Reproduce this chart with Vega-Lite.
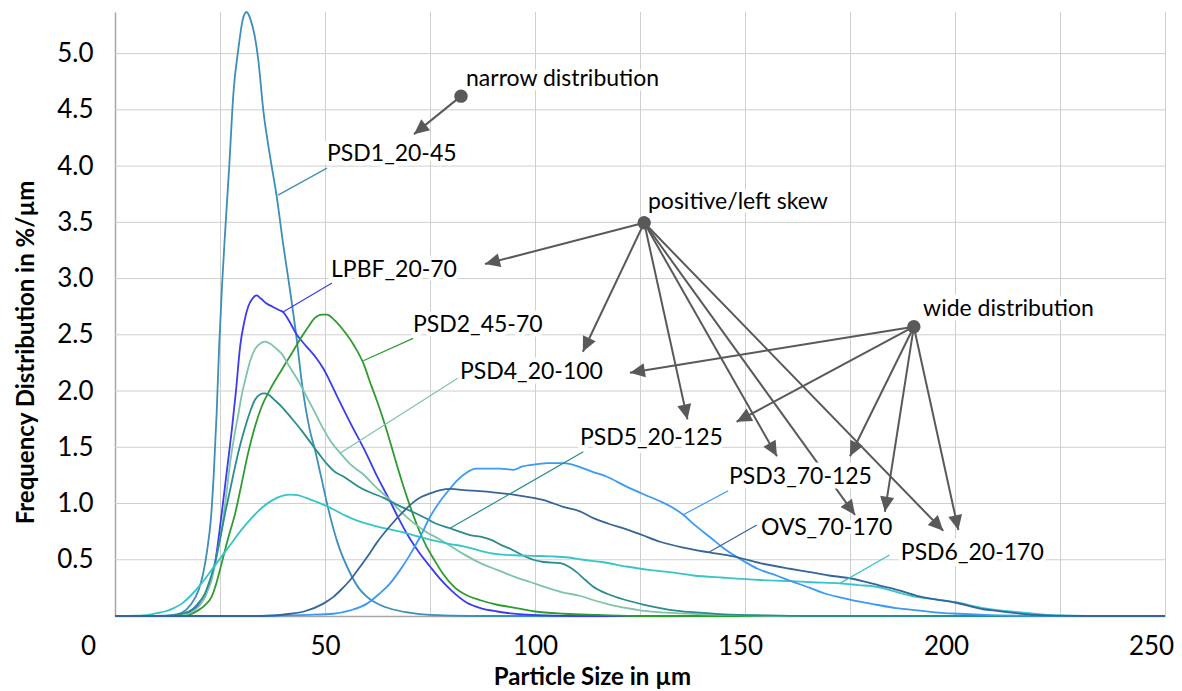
{
  "$schema": "https://vega.github.io/schema/vega-lite/v6.json",
  "width": 1050,
  "height": 604,
  "autosize": {"type": "none"},
  "padding": {"left": 115, "top": 12, "right": 17, "bottom": 75},
  "background": "white",
  "config": {
    "view": {"stroke": null},
    "font": "Lato",
    "axis": {
      "labelFont": "Lato", "labelFontSize": 26, "labelColor": "#000000",
      "titleFont": "Lato", "titleFontSize": 24, "titleFontWeight": "bold", "titleColor": "#000000",
      "tickSize": 0, "grid": false,
      "domainColor": "#A6A6A6", "domainWidth": 1.5, "labelOverlap": false, "labelFlush": false, "labelBound": false
    }
  },
  "resolve": {"axis": {"x": "independent", "y": "independent"}},
  "datasets": {
    "gridx": [{"x":25},{"x":50},{"x":75},{"x":100},{"x":125},{"x":150},{"x":175},{"x":200},{"x":225},{"x":250}],
    "gridy": [{"y":0.5},{"y":1},{"y":1.5},{"y":2},{"y":2.5},{"y":3},{"y":3.5},{"y":4},{"y":4.5},{"y":5}],
    "curves": [
      {"s":"PSD1_20-45","x":0,"y":0},{"s":"PSD1_20-45","x":10,"y":0},{"s":"PSD1_20-45","x":14,"y":0.01},{"s":"PSD1_20-45","x":16,"y":0.03},{"s":"PSD1_20-45","x":18,"y":0.1},{"s":"PSD1_20-45","x":20,"y":0.24},{"s":"PSD1_20-45","x":21,"y":0.38},{"s":"PSD1_20-45","x":22,"y":0.6},{"s":"PSD1_20-45","x":22.8,"y":0.85},{"s":"PSD1_20-45","x":23.5,"y":1.25},{"s":"PSD1_20-45","x":24.2,"y":1.8},{"s":"PSD1_20-45","x":24.8,"y":2.4},{"s":"PSD1_20-45","x":25.5,"y":2.95},{"s":"PSD1_20-45","x":26.2,"y":3.4},{"s":"PSD1_20-45","x":27.2,"y":4.0},{"s":"PSD1_20-45","x":28.2,"y":4.65},{"s":"PSD1_20-45","x":29.4,"y":5.05},{"s":"PSD1_20-45","x":30.4,"y":5.3},{"s":"PSD1_20-45","x":31.3,"y":5.37},{"s":"PSD1_20-45","x":32.3,"y":5.3},{"s":"PSD1_20-45","x":33.3,"y":5.15},{"s":"PSD1_20-45","x":34.1,"y":4.95},{"s":"PSD1_20-45","x":35.3,"y":4.5},{"s":"PSD1_20-45","x":36.9,"y":4.09},{"s":"PSD1_20-45","x":38.5,"y":3.73},{"s":"PSD1_20-45","x":40.1,"y":3.29},{"s":"PSD1_20-45","x":41.3,"y":2.99},{"s":"PSD1_20-45","x":43.3,"y":2.45},{"s":"PSD1_20-45","x":44.4,"y":2.1},{"s":"PSD1_20-45","x":46.4,"y":1.65},{"s":"PSD1_20-45","x":47.6,"y":1.48},{"s":"PSD1_20-45","x":49,"y":1.25},{"s":"PSD1_20-45","x":50.8,"y":0.95},{"s":"PSD1_20-45","x":53,"y":0.65},{"s":"PSD1_20-45","x":56,"y":0.38},{"s":"PSD1_20-45","x":58,"y":0.25},{"s":"PSD1_20-45","x":60,"y":0.17},{"s":"PSD1_20-45","x":63,"y":0.1},{"s":"PSD1_20-45","x":66,"y":0.06},{"s":"PSD1_20-45","x":70,"y":0.03},{"s":"PSD1_20-45","x":75,"y":0.01},{"s":"PSD1_20-45","x":85,"y":0},{"s":"PSD1_20-45","x":250,"y":0},

      {"s":"LPBF_20-70","x":0,"y":0},{"s":"LPBF_20-70","x":12,"y":0},{"s":"LPBF_20-70","x":16.3,"y":0.01},{"s":"LPBF_20-70","x":18.3,"y":0.05},{"s":"LPBF_20-70","x":20,"y":0.1},{"s":"LPBF_20-70","x":21.4,"y":0.17},{"s":"LPBF_20-70","x":22.6,"y":0.3},{"s":"LPBF_20-70","x":23.8,"y":0.47},{"s":"LPBF_20-70","x":25.4,"y":0.91},{"s":"LPBF_20-70","x":26.5,"y":1.25},{"s":"LPBF_20-70","x":27.8,"y":1.65},{"s":"LPBF_20-70","x":28.8,"y":2.0},{"s":"LPBF_20-70","x":29.8,"y":2.4},{"s":"LPBF_20-70","x":30.8,"y":2.62},{"s":"LPBF_20-70","x":31.7,"y":2.75},{"s":"LPBF_20-70","x":32.7,"y":2.82},{"s":"LPBF_20-70","x":33.7,"y":2.85},{"s":"LPBF_20-70","x":34.8,"y":2.82},{"s":"LPBF_20-70","x":36,"y":2.78},{"s":"LPBF_20-70","x":37.5,"y":2.75},{"s":"LPBF_20-70","x":39,"y":2.72},{"s":"LPBF_20-70","x":40.1,"y":2.7},{"s":"LPBF_20-70","x":41.5,"y":2.62},{"s":"LPBF_20-70","x":43.3,"y":2.5},{"s":"LPBF_20-70","x":45.5,"y":2.4},{"s":"LPBF_20-70","x":48,"y":2.29},{"s":"LPBF_20-70","x":49.6,"y":2.2},{"s":"LPBF_20-70","x":51,"y":2.1},{"s":"LPBF_20-70","x":52.8,"y":1.96},{"s":"LPBF_20-70","x":56,"y":1.72},{"s":"LPBF_20-70","x":59.9,"y":1.44},{"s":"LPBF_20-70","x":62.3,"y":1.25},{"s":"LPBF_20-70","x":65.5,"y":1.02},{"s":"LPBF_20-70","x":67.5,"y":0.87},{"s":"LPBF_20-70","x":70,"y":0.7},{"s":"LPBF_20-70","x":72.5,"y":0.56},{"s":"LPBF_20-70","x":75,"y":0.44},{"s":"LPBF_20-70","x":77.4,"y":0.33},{"s":"LPBF_20-70","x":80,"y":0.23},{"s":"LPBF_20-70","x":83.7,"y":0.12},{"s":"LPBF_20-70","x":87,"y":0.07},{"s":"LPBF_20-70","x":91,"y":0.04},{"s":"LPBF_20-70","x":99,"y":0.01},{"s":"LPBF_20-70","x":110,"y":0},{"s":"LPBF_20-70","x":250,"y":0},

      {"s":"PSD2_45-70","x":0,"y":0},{"s":"PSD2_45-70","x":15,"y":0},{"s":"PSD2_45-70","x":17.5,"y":0.01},{"s":"PSD2_45-70","x":19.8,"y":0.05},{"s":"PSD2_45-70","x":21.5,"y":0.1},{"s":"PSD2_45-70","x":23,"y":0.17},{"s":"PSD2_45-70","x":24.2,"y":0.3},{"s":"PSD2_45-70","x":25.4,"y":0.47},{"s":"PSD2_45-70","x":27,"y":0.7},{"s":"PSD2_45-70","x":28.6,"y":0.91},{"s":"PSD2_45-70","x":30,"y":1.15},{"s":"PSD2_45-70","x":31.7,"y":1.45},{"s":"PSD2_45-70","x":33.3,"y":1.68},{"s":"PSD2_45-70","x":34.9,"y":1.86},{"s":"PSD2_45-70","x":37,"y":2.02},{"s":"PSD2_45-70","x":39.7,"y":2.19},{"s":"PSD2_45-70","x":42,"y":2.33},{"s":"PSD2_45-70","x":44.4,"y":2.48},{"s":"PSD2_45-70","x":46,"y":2.57},{"s":"PSD2_45-70","x":47.6,"y":2.65},{"s":"PSD2_45-70","x":49.2,"y":2.68},{"s":"PSD2_45-70","x":50.5,"y":2.68},{"s":"PSD2_45-70","x":52,"y":2.64},{"s":"PSD2_45-70","x":54.4,"y":2.54},{"s":"PSD2_45-70","x":57,"y":2.4},{"s":"PSD2_45-70","x":59.1,"y":2.25},{"s":"PSD2_45-70","x":61,"y":2.05},{"s":"PSD2_45-70","x":62.3,"y":1.92},{"s":"PSD2_45-70","x":64.7,"y":1.65},{"s":"PSD2_45-70","x":66.5,"y":1.42},{"s":"PSD2_45-70","x":68.7,"y":1.15},{"s":"PSD2_45-70","x":70.5,"y":0.95},{"s":"PSD2_45-70","x":72.2,"y":0.78},{"s":"PSD2_45-70","x":74,"y":0.63},{"s":"PSD2_45-70","x":76,"y":0.5},{"s":"PSD2_45-70","x":78,"y":0.38},{"s":"PSD2_45-70","x":81,"y":0.25},{"s":"PSD2_45-70","x":84,"y":0.18},{"s":"PSD2_45-70","x":87,"y":0.14},{"s":"PSD2_45-70","x":91,"y":0.1},{"s":"PSD2_45-70","x":95.6,"y":0.07},{"s":"PSD2_45-70","x":100,"y":0.04},{"s":"PSD2_45-70","x":107,"y":0.02},{"s":"PSD2_45-70","x":115,"y":0.01},{"s":"PSD2_45-70","x":125,"y":0},{"s":"PSD2_45-70","x":250,"y":0},

      {"s":"PSD4_20-100","x":0,"y":0},{"s":"PSD4_20-100","x":12,"y":0},{"s":"PSD4_20-100","x":16.3,"y":0.01},{"s":"PSD4_20-100","x":19.8,"y":0.08},{"s":"PSD4_20-100","x":21.5,"y":0.18},{"s":"PSD4_20-100","x":23,"y":0.32},{"s":"PSD4_20-100","x":24.3,"y":0.55},{"s":"PSD4_20-100","x":25.4,"y":0.77},{"s":"PSD4_20-100","x":26.4,"y":1.05},{"s":"PSD4_20-100","x":27.4,"y":1.36},{"s":"PSD4_20-100","x":28.4,"y":1.6},{"s":"PSD4_20-100","x":29.4,"y":1.8},{"s":"PSD4_20-100","x":30.2,"y":1.97},{"s":"PSD4_20-100","x":31,"y":2.1},{"s":"PSD4_20-100","x":32.2,"y":2.27},{"s":"PSD4_20-100","x":33.3,"y":2.37},{"s":"PSD4_20-100","x":34.5,"y":2.42},{"s":"PSD4_20-100","x":35.7,"y":2.44},{"s":"PSD4_20-100","x":37,"y":2.42},{"s":"PSD4_20-100","x":38.3,"y":2.38},{"s":"PSD4_20-100","x":39.7,"y":2.33},{"s":"PSD4_20-100","x":41.5,"y":2.22},{"s":"PSD4_20-100","x":43.5,"y":2.1},{"s":"PSD4_20-100","x":45.5,"y":1.96},{"s":"PSD4_20-100","x":47.6,"y":1.81},{"s":"PSD4_20-100","x":49.5,"y":1.67},{"s":"PSD4_20-100","x":51.6,"y":1.54},{"s":"PSD4_20-100","x":53.6,"y":1.45},{"s":"PSD4_20-100","x":56,"y":1.35},{"s":"PSD4_20-100","x":59.1,"y":1.26},{"s":"PSD4_20-100","x":62,"y":1.15},{"s":"PSD4_20-100","x":65.5,"y":1.03},{"s":"PSD4_20-100","x":68,"y":0.93},{"s":"PSD4_20-100","x":71,"y":0.83},{"s":"PSD4_20-100","x":74,"y":0.75},{"s":"PSD4_20-100","x":77.4,"y":0.68},{"s":"PSD4_20-100","x":80,"y":0.62},{"s":"PSD4_20-100","x":83,"y":0.55},{"s":"PSD4_20-100","x":87,"y":0.47},{"s":"PSD4_20-100","x":91,"y":0.41},{"s":"PSD4_20-100","x":95,"y":0.35},{"s":"PSD4_20-100","x":99,"y":0.3},{"s":"PSD4_20-100","x":103,"y":0.25},{"s":"PSD4_20-100","x":106.5,"y":0.21},{"s":"PSD4_20-100","x":110.7,"y":0.18},{"s":"PSD4_20-100","x":114,"y":0.14},{"s":"PSD4_20-100","x":118,"y":0.1},{"s":"PSD4_20-100","x":122,"y":0.07},{"s":"PSD4_20-100","x":126,"y":0.045},{"s":"PSD4_20-100","x":131,"y":0.03},{"s":"PSD4_20-100","x":140,"y":0.015},{"s":"PSD4_20-100","x":150,"y":0.005},{"s":"PSD4_20-100","x":160,"y":0},{"s":"PSD4_20-100","x":250,"y":0},

      {"s":"PSD5_20-125","x":0,"y":0},{"s":"PSD5_20-125","x":12,"y":0},{"s":"PSD5_20-125","x":17.5,"y":0.04},{"s":"PSD5_20-125","x":19.5,"y":0.1},{"s":"PSD5_20-125","x":21.4,"y":0.2},{"s":"PSD5_20-125","x":22.6,"y":0.32},{"s":"PSD5_20-125","x":23.8,"y":0.47},{"s":"PSD5_20-125","x":25,"y":0.68},{"s":"PSD5_20-125","x":26.2,"y":0.91},{"s":"PSD5_20-125","x":27.4,"y":1.12},{"s":"PSD5_20-125","x":28.6,"y":1.33},{"s":"PSD5_20-125","x":29.8,"y":1.52},{"s":"PSD5_20-125","x":31,"y":1.68},{"s":"PSD5_20-125","x":32.2,"y":1.82},{"s":"PSD5_20-125","x":33.3,"y":1.92},{"s":"PSD5_20-125","x":34.5,"y":1.97},{"s":"PSD5_20-125","x":35.5,"y":1.98},{"s":"PSD5_20-125","x":36.5,"y":1.97},{"s":"PSD5_20-125","x":38,"y":1.92},{"s":"PSD5_20-125","x":39.7,"y":1.86},{"s":"PSD5_20-125","x":42,"y":1.76},{"s":"PSD5_20-125","x":44.4,"y":1.65},{"s":"PSD5_20-125","x":46.4,"y":1.55},{"s":"PSD5_20-125","x":48.4,"y":1.45},{"s":"PSD5_20-125","x":50.5,"y":1.35},{"s":"PSD5_20-125","x":52.4,"y":1.28},{"s":"PSD5_20-125","x":54.4,"y":1.24},{"s":"PSD5_20-125","x":56,"y":1.2},{"s":"PSD5_20-125","x":58,"y":1.15},{"s":"PSD5_20-125","x":60.7,"y":1.1},{"s":"PSD5_20-125","x":64,"y":1.05},{"s":"PSD5_20-125","x":67.1,"y":0.99},{"s":"PSD5_20-125","x":70,"y":0.94},{"s":"PSD5_20-125","x":73.4,"y":0.88},{"s":"PSD5_20-125","x":76.5,"y":0.82},{"s":"PSD5_20-125","x":79.8,"y":0.78},{"s":"PSD5_20-125","x":82,"y":0.75},{"s":"PSD5_20-125","x":84.5,"y":0.72},{"s":"PSD5_20-125","x":87.7,"y":0.7},{"s":"PSD5_20-125","x":90,"y":0.67},{"s":"PSD5_20-125","x":92,"y":0.63},{"s":"PSD5_20-125","x":94,"y":0.6},{"s":"PSD5_20-125","x":96.5,"y":0.55},{"s":"PSD5_20-125","x":99.6,"y":0.5},{"s":"PSD5_20-125","x":102,"y":0.48},{"s":"PSD5_20-125","x":106,"y":0.47},{"s":"PSD5_20-125","x":108,"y":0.44},{"s":"PSD5_20-125","x":109.9,"y":0.39},{"s":"PSD5_20-125","x":112,"y":0.32},{"s":"PSD5_20-125","x":113.9,"y":0.26},{"s":"PSD5_20-125","x":117,"y":0.2},{"s":"PSD5_20-125","x":121.8,"y":0.14},{"s":"PSD5_20-125","x":126,"y":0.1},{"s":"PSD5_20-125","x":129.8,"y":0.07},{"s":"PSD5_20-125","x":134,"y":0.045},{"s":"PSD5_20-125","x":139,"y":0.03},{"s":"PSD5_20-125","x":145,"y":0.015},{"s":"PSD5_20-125","x":155,"y":0.005},{"s":"PSD5_20-125","x":165,"y":0},{"s":"PSD5_20-125","x":250,"y":0},

      {"s":"PSD6_20-170","x":0,"y":0},{"s":"PSD6_20-170","x":5,"y":0.003},{"s":"PSD6_20-170","x":7.9,"y":0.01},{"s":"PSD6_20-170","x":10,"y":0.025},{"s":"PSD6_20-170","x":11.9,"y":0.04},{"s":"PSD6_20-170","x":14,"y":0.07},{"s":"PSD6_20-170","x":15.9,"y":0.11},{"s":"PSD6_20-170","x":18,"y":0.18},{"s":"PSD6_20-170","x":20.6,"y":0.29},{"s":"PSD6_20-170","x":23,"y":0.41},{"s":"PSD6_20-170","x":25.4,"y":0.53},{"s":"PSD6_20-170","x":28,"y":0.66},{"s":"PSD6_20-170","x":30.2,"y":0.77},{"s":"PSD6_20-170","x":32.5,"y":0.87},{"s":"PSD6_20-170","x":34.9,"y":0.96},{"s":"PSD6_20-170","x":37.5,"y":1.03},{"s":"PSD6_20-170","x":40,"y":1.07},{"s":"PSD6_20-170","x":41.7,"y":1.08},{"s":"PSD6_20-170","x":43.5,"y":1.075},{"s":"PSD6_20-170","x":45.5,"y":1.05},{"s":"PSD6_20-170","x":47.6,"y":1.02},{"s":"PSD6_20-170","x":49.6,"y":0.99},{"s":"PSD6_20-170","x":52.4,"y":0.94},{"s":"PSD6_20-170","x":55,"y":0.89},{"s":"PSD6_20-170","x":57.5,"y":0.85},{"s":"PSD6_20-170","x":59.1,"y":0.83},{"s":"PSD6_20-170","x":62,"y":0.8},{"s":"PSD6_20-170","x":65.5,"y":0.77},{"s":"PSD6_20-170","x":68,"y":0.75},{"s":"PSD6_20-170","x":71,"y":0.72},{"s":"PSD6_20-170","x":75,"y":0.68},{"s":"PSD6_20-170","x":79.8,"y":0.64},{"s":"PSD6_20-170","x":83,"y":0.62},{"s":"PSD6_20-170","x":87,"y":0.58},{"s":"PSD6_20-170","x":91,"y":0.55},{"s":"PSD6_20-170","x":95,"y":0.54},{"s":"PSD6_20-170","x":99,"y":0.535},{"s":"PSD6_20-170","x":104,"y":0.53},{"s":"PSD6_20-170","x":108,"y":0.52},{"s":"PSD6_20-170","x":111.5,"y":0.5},{"s":"PSD6_20-170","x":116,"y":0.48},{"s":"PSD6_20-170","x":121.8,"y":0.44},{"s":"PSD6_20-170","x":127,"y":0.41},{"s":"PSD6_20-170","x":132,"y":0.39},{"s":"PSD6_20-170","x":137.7,"y":0.36},{"s":"PSD6_20-170","x":145,"y":0.34},{"s":"PSD6_20-170","x":153.6,"y":0.32},{"s":"PSD6_20-170","x":160.7,"y":0.31},{"s":"PSD6_20-170","x":166,"y":0.3},{"s":"PSD6_20-170","x":172.6,"y":0.29},{"s":"PSD6_20-170","x":177,"y":0.275},{"s":"PSD6_20-170","x":181.3,"y":0.26},{"s":"PSD6_20-170","x":184.5,"y":0.23},{"s":"PSD6_20-170","x":190.9,"y":0.17},{"s":"PSD6_20-170","x":195,"y":0.15},{"s":"PSD6_20-170","x":200.4,"y":0.12},{"s":"PSD6_20-170","x":206.7,"y":0.07},{"s":"PSD6_20-170","x":212,"y":0.045},{"s":"PSD6_20-170","x":216.3,"y":0.03},{"s":"PSD6_20-170","x":222,"y":0.01},{"s":"PSD6_20-170","x":228,"y":0.003},{"s":"PSD6_20-170","x":235,"y":0},{"s":"PSD6_20-170","x":250,"y":0},

      {"s":"PSD3_70-125","x":0,"y":0},{"s":"PSD3_70-125","x":30,"y":0},{"s":"PSD3_70-125","x":40,"y":0.005},{"s":"PSD3_70-125","x":46,"y":0.01},{"s":"PSD3_70-125","x":52,"y":0.02},{"s":"PSD3_70-125","x":56,"y":0.05},{"s":"PSD3_70-125","x":60,"y":0.11},{"s":"PSD3_70-125","x":63,"y":0.2},{"s":"PSD3_70-125","x":65.5,"y":0.29},{"s":"PSD3_70-125","x":67.9,"y":0.41},{"s":"PSD3_70-125","x":70,"y":0.53},{"s":"PSD3_70-125","x":72.6,"y":0.7},{"s":"PSD3_70-125","x":75,"y":0.88},{"s":"PSD3_70-125","x":77.4,"y":1.02},{"s":"PSD3_70-125","x":79.5,"y":1.12},{"s":"PSD3_70-125","x":81.3,"y":1.2},{"s":"PSD3_70-125","x":83.5,"y":1.27},{"s":"PSD3_70-125","x":86,"y":1.31},{"s":"PSD3_70-125","x":89.3,"y":1.31},{"s":"PSD3_70-125","x":91.7,"y":1.31},{"s":"PSD3_70-125","x":94.8,"y":1.3},{"s":"PSD3_70-125","x":97,"y":1.33},{"s":"PSD3_70-125","x":100.4,"y":1.35},{"s":"PSD3_70-125","x":103,"y":1.36},{"s":"PSD3_70-125","x":106.7,"y":1.36},{"s":"PSD3_70-125","x":108.5,"y":1.35},{"s":"PSD3_70-125","x":111,"y":1.32},{"s":"PSD3_70-125","x":113.9,"y":1.28},{"s":"PSD3_70-125","x":117,"y":1.24},{"s":"PSD3_70-125","x":121.8,"y":1.15},{"s":"PSD3_70-125","x":126,"y":1.08},{"s":"PSD3_70-125","x":129.8,"y":1.02},{"s":"PSD3_70-125","x":132,"y":0.98},{"s":"PSD3_70-125","x":135.3,"y":0.9},{"s":"PSD3_70-125","x":138,"y":0.81},{"s":"PSD3_70-125","x":141.7,"y":0.7},{"s":"PSD3_70-125","x":145,"y":0.6},{"s":"PSD3_70-125","x":149.6,"y":0.49},{"s":"PSD3_70-125","x":153,"y":0.42},{"s":"PSD3_70-125","x":157.5,"y":0.36},{"s":"PSD3_70-125","x":161,"y":0.31},{"s":"PSD3_70-125","x":165.5,"y":0.25},{"s":"PSD3_70-125","x":169,"y":0.2},{"s":"PSD3_70-125","x":173.4,"y":0.16},{"s":"PSD3_70-125","x":177,"y":0.13},{"s":"PSD3_70-125","x":181.3,"y":0.1},{"s":"PSD3_70-125","x":186,"y":0.07},{"s":"PSD3_70-125","x":191,"y":0.05},{"s":"PSD3_70-125","x":196,"y":0.03},{"s":"PSD3_70-125","x":201,"y":0.02},{"s":"PSD3_70-125","x":207,"y":0.01},{"s":"PSD3_70-125","x":215,"y":0.003},{"s":"PSD3_70-125","x":225,"y":0},{"s":"PSD3_70-125","x":250,"y":0},

      {"s":"OVS_70-170","x":0,"y":0},{"s":"OVS_70-170","x":35,"y":0},{"s":"OVS_70-170","x":41.7,"y":0.02},{"s":"OVS_70-170","x":45,"y":0.04},{"s":"OVS_70-170","x":49.6,"y":0.11},{"s":"OVS_70-170","x":52,"y":0.17},{"s":"OVS_70-170","x":54,"y":0.24},{"s":"OVS_70-170","x":56,"y":0.32},{"s":"OVS_70-170","x":58,"y":0.42},{"s":"OVS_70-170","x":60.5,"y":0.55},{"s":"OVS_70-170","x":62.3,"y":0.65},{"s":"OVS_70-170","x":65.5,"y":0.8},{"s":"OVS_70-170","x":68.7,"y":0.93},{"s":"OVS_70-170","x":71,"y":1.01},{"s":"OVS_70-170","x":73,"y":1.06},{"s":"OVS_70-170","x":75,"y":1.09},{"s":"OVS_70-170","x":77.5,"y":1.12},{"s":"OVS_70-170","x":80,"y":1.13},{"s":"OVS_70-170","x":83,"y":1.12},{"s":"OVS_70-170","x":86.9,"y":1.11},{"s":"OVS_70-170","x":90,"y":1.1},{"s":"OVS_70-170","x":94.8,"y":1.08},{"s":"OVS_70-170","x":99.6,"y":1.05},{"s":"OVS_70-170","x":103,"y":1.02},{"s":"OVS_70-170","x":106.7,"y":0.97},{"s":"OVS_70-170","x":110.7,"y":0.93},{"s":"OVS_70-170","x":113.9,"y":0.87},{"s":"OVS_70-170","x":117.5,"y":0.82},{"s":"OVS_70-170","x":121.8,"y":0.77},{"s":"OVS_70-170","x":125.5,"y":0.72},{"s":"OVS_70-170","x":129.8,"y":0.66},{"s":"OVS_70-170","x":135,"y":0.61},{"s":"OVS_70-170","x":141.5,"y":0.565},{"s":"OVS_70-170","x":147.2,"y":0.53},{"s":"OVS_70-170","x":153.6,"y":0.47},{"s":"OVS_70-170","x":160.7,"y":0.42},{"s":"OVS_70-170","x":165.5,"y":0.39},{"s":"OVS_70-170","x":170,"y":0.36},{"s":"OVS_70-170","x":174.2,"y":0.34},{"s":"OVS_70-170","x":178,"y":0.31},{"s":"OVS_70-170","x":182.1,"y":0.27},{"s":"OVS_70-170","x":186.5,"y":0.23},{"s":"OVS_70-170","x":190.9,"y":0.18},{"s":"OVS_70-170","x":195,"y":0.15},{"s":"OVS_70-170","x":200,"y":0.12},{"s":"OVS_70-170","x":206.7,"y":0.06},{"s":"OVS_70-170","x":210,"y":0.045},{"s":"OVS_70-170","x":214.7,"y":0.025},{"s":"OVS_70-170","x":219,"y":0.01},{"s":"OVS_70-170","x":225,"y":0.003},{"s":"OVS_70-170","x":232,"y":0},{"s":"OVS_70-170","x":250,"y":0}
    ],
    "leaders": [
      {"s":"PSD1_20-45","x":50.48,"y":3.982,"x2":38.81,"y2":3.742},
      {"s":"LPBF_20-70","x":51.67,"y":2.96,"x2":40.0,"y2":2.702},
      {"s":"PSD2_45-70","x":70.98,"y":2.468,"x2":59.12,"y2":2.27},
      {"s":"PSD4_20-100","x":82.14,"y":2.127,"x2":53.57,"y2":1.446},
      {"s":"PSD5_20-125","x":111.5,"y":1.46,"x2":79.76,"y2":0.78},
      {"s":"PSD3_70-125","x":146.0,"y":1.114,"x2":135.3,"y2":0.9},
      {"s":"OVS_70-170","x":152.8,"y":0.809,"x2":141.3,"y2":0.565},
      {"s":"PSD6_20-170","x":184.4,"y":0.542,"x2":172.6,"y2":0.29}
    ],
    "arrows": [
      {"x":82.38,"y":4.622,"x2":71.19,"y2":4.284},
      {"x":126.0,"y":3.496,"x2":88.1,"y2":3.129},
      {"x":126.0,"y":3.496,"x2":111.4,"y2":2.349},
      {"x":126.0,"y":3.496,"x2":136.3,"y2":1.748},
      {"x":126.0,"y":3.496,"x2":157.6,"y2":1.42},
      {"x":126.0,"y":3.496,"x2":176.2,"y2":0.898},
      {"x":126.0,"y":3.496,"x2":197.2,"y2":0.758},
      {"x":190.2,"y":2.572,"x2":122.6,"y2":2.163},
      {"x":190.2,"y":2.572,"x2":148.0,"y2":1.727},
      {"x":190.2,"y":2.572,"x2":175.0,"y2":1.42},
      {"x":190.2,"y":2.572,"x2":183.3,"y2":0.927},
      {"x":190.2,"y":2.572,"x2":200.8,"y2":0.764}
    ],
    "dots": [
      {"x":82.38,"y":4.622},{"x":126.0,"y":3.496},{"x":190.2,"y":2.572}
    ],
    "labels": [
      {"t":"narrow distribution","x":83.57,"y":4.711},
      {"t":"PSD1_20-45","x":50.48,"y":4.044},
      {"t":"positive/left skew","x":126.9,"y":3.618},
      {"t":"LPBF_20-70","x":51.43,"y":3.013},
      {"t":"PSD2_45-70","x":70.95,"y":2.524},
      {"t":"wide distribution","x":192.4,"y":2.667},
      {"t":"PSD4_20-100","x":82.14,"y":2.107},
      {"t":"PSD5_20-125","x":110.7,"y":1.52},
      {"t":"PSD3_70-125","x":146.2,"y":1.173},
      {"t":"OVS_70-170","x":153.8,"y":0.72},
      {"t":"PSD6_20-170","x":187.1,"y":0.498}
    ]
  },
  "layer": [
    {
      "data": {"name": "gridx"},
      "mark": {"type": "rule", "color": "#CFCFCF", "strokeWidth": 1, "xOffset": 0.5},
      "encoding": {
        "x": {"field": "x", "type": "quantitative", "title": "Particle Size in µm", "scale": {"domain": [0, 250], "nice": false, "zero": false},
          "axis": {"values": [0,25,50,75,100,125,150,175,200,225,250],
            "labelExpr": "datum.value % 50 == 0 ? datum.label : ''", "labelPadding": 17,
            "labelOffset": {"condition": [{"test": "datum.value == 0", "value": -27}, {"test": "datum.value == 150", "value": -5}, {"test": "datum.value == 200", "value": -9}, {"test": "datum.value == 250", "value": -14}], "value": 0},
            "titleX": 477, "titleY": 68, "titleBaseline": "alphabetic", "titleAlign": "center"}}
      }
    },
    {
      "data": {"name": "gridy"},
      "mark": {"type": "rule", "color": "#CFCFCF", "strokeWidth": 1},
      "encoding": {
        "y": {"field": "y", "type": "quantitative", "title": "Frequency Distribution in %/µm", "scale": {"domain": [0, 5.37], "nice": false, "zero": false},
          "axis": {"values": [0,0.5,1,1.5,2,2.5,3,3.5,4,4.5,5],
            "labelExpr": "datum.value == 0 ? '' : format(datum.value, '.1f')", "labelPadding": 22,
            "titleX": -82, "titleY": 340, "titleBaseline": "alphabetic", "titleAlign": "center", "titleAngle": -90}}
      }
    },
    {
      "data": {"name": "curves"},
      "mark": {"type": "line", "interpolate": "monotone", "strokeWidth": 1.8},
      "encoding": {
        "x": {"field": "x", "type": "quantitative", "axis": null},
        "y": {"field": "y", "type": "quantitative", "axis": null},
        "color": {"field": "s", "type": "nominal", "legend": null,
          "scale": {"domain": ["PSD1_20-45","LPBF_20-70","PSD2_45-70","PSD4_20-100","PSD5_20-125","PSD6_20-170","PSD3_70-125","OVS_70-170"],
                    "range": ["#3D8EB9","#3B3BF2","#2E9B2E","#7EC4A6","#2A8C8C","#36C5C8","#3A9AF5","#36659A"]}},
        "detail": {"field": "s"}
      }
    },
    {
      "data": {"name": "leaders"},
      "mark": {"type": "rule", "strokeWidth": 1.2},
      "encoding": {
        "x": {"field": "x", "type": "quantitative", "axis": null},
        "y": {"field": "y", "type": "quantitative", "axis": null},
        "x2": {"field": "x2"},
        "y2": {"field": "y2"},
        "color": {"field": "s", "type": "nominal", "legend": null}
      }
    },
    {
      "data": {"name": "arrows"},
      "mark": {"type": "rule", "strokeWidth": 2, "color": "#595959"},
      "encoding": {
        "x": {"field": "x", "type": "quantitative", "axis": null},
        "y": {"field": "y", "type": "quantitative", "axis": null},
        "x2": {"field": "x2"},
        "y2": {"field": "y2"}
      }
    },
    {
      "data": {"name": "arrows"},
      "transform": [{"calculate": "atan2((datum.x2 - datum.x) * 4.2, (datum.y2 - datum.y) * 112.5) * 180 / PI", "as": "ang"}],
      "mark": {"type": "point", "shape": "M0,0L-0.47,1L0.47,1Z", "size": 900, "filled": true, "opacity": 1, "color": "#595959", "strokeWidth": 0},
      "encoding": {
        "x": {"field": "x2", "type": "quantitative", "axis": null},
        "y": {"field": "y2", "type": "quantitative", "axis": null},
        "angle": {"field": "ang", "type": "quantitative", "scale": null}
      }
    },
    {
      "data": {"name": "dots"},
      "mark": {"type": "point", "shape": "circle", "size": 180, "filled": true, "opacity": 1, "color": "#595959"},
      "encoding": {
        "x": {"field": "x", "type": "quantitative", "axis": null},
        "y": {"field": "y", "type": "quantitative", "axis": null}
      }
    },
    {
      "data": {"name": "labels"},
      "mark": {"type": "text", "align": "left", "baseline": "alphabetic", "font": "Lato", "fontSize": 23, "fill": "white", "stroke": "white", "strokeWidth": 9, "strokeJoin": "round"},
      "encoding": {
        "x": {"field": "x", "type": "quantitative", "axis": null},
        "y": {"field": "y", "type": "quantitative", "axis": null},
        "text": {"field": "t"}
      }
    },
    {
      "data": {"name": "labels"},
      "mark": {"type": "text", "align": "left", "baseline": "alphabetic", "font": "Lato", "fontSize": 23, "color": "#000000"},
      "encoding": {
        "x": {"field": "x", "type": "quantitative", "axis": null},
        "y": {"field": "y", "type": "quantitative", "axis": null},
        "text": {"field": "t"}
      }
    }
  ]
}
